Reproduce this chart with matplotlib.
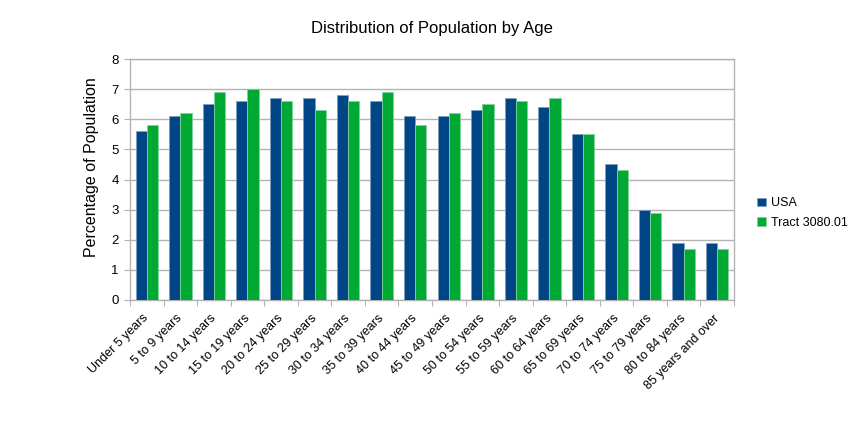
import matplotlib
matplotlib.use("Agg")
import matplotlib.pyplot as plt
import matplotlib.transforms as mtransforms
import numpy as np

categories = ["Under 5 years", "5 to 9 years", "10 to 14 years", "15 to 19 years",
              "20 to 24 years", "25 to 29 years", "30 to 34 years", "35 to 39 years",
              "40 to 44 years", "45 to 49 years", "50 to 54 years", "55 to 59 years",
              "60 to 64 years", "65 to 69 years", "70 to 74 years", "75 to 79 years",
              "80 to 84 years", "85 years and over"]
usa = [5.6, 6.1, 6.5, 6.6, 6.7, 6.7, 6.8, 6.6, 6.1, 6.1, 6.3, 6.7, 6.4, 5.5, 4.5, 3.0, 1.9, 1.9]
tract = [5.8, 6.2, 6.9, 7.0, 6.6, 6.3, 6.6, 6.9, 5.8, 6.2, 6.5, 6.6, 6.7, 5.5, 4.3, 2.9, 1.7, 1.7]
series_names = ["USA", "Tract 3080.01"]
colors = ["#004586", "#00a933"]
edge_colors = ["#7f9fc0", "#7fd499"]

plt.rcParams['font.family'] = ['Liberation Sans', 'DejaVu Sans']

fig = plt.figure(figsize=(8.61, 4.26), dpi=100)
ax = fig.add_axes([130/861, 1 - 300/426, (734-130)/861, (300-59)/426])

x = np.arange(len(categories))
w = 0.335
ax.bar(x - w/2, usa, w, color=colors[0], edgecolor=edge_colors[0], linewidth=0.6, label=series_names[0], zorder=3)
ax.bar(x + w/2, tract, w, color=colors[1], edgecolor=edge_colors[1], linewidth=0.6, label=series_names[1], zorder=3)

ax.set_xlim(-0.5, len(categories) - 0.5)
ax.set_ylim(0, 8)
ax.set_yticks(range(0, 9))
ax.yaxis.grid(True, color="#b3b3b3", linewidth=1, zorder=0)
ax.set_axisbelow(True)
for s in ax.spines.values():
    s.set_color("#b3b3b3")
    s.set_linewidth(1)

ax.set_xticks(np.arange(-0.5, len(categories), 1.0))
ax.set_xticklabels([])
ax.set_xticks(x, minor=True)
ax.set_xticklabels(categories, minor=True, rotation=45, ha='right', rotation_mode='anchor', fontsize=9)
ax.tick_params(axis='x', which='minor', length=0, pad=3)
ax.tick_params(axis='x', which='major', length=4, color="#b3b3b3", direction='out')
ax.tick_params(axis='y', length=4, color="#b3b3b3", direction='out', labelsize=9.5, pad=4)
offset = mtransforms.ScaledTranslation(-4/100, -8/100, fig.dpi_scale_trans)
for t in ax.get_xticklabels(minor=True):
    t.set_transform(t.get_transform() + offset)

ax.set_ylabel("Percentage of Population", fontsize=11.5)
ax.yaxis.set_label_coords(-0.051, 0.55)
fig.text(431.5/861, 1 - 28/426, "Distribution of Population by Age", ha='center', va='center', fontsize=12)

leg = ax.legend(loc='center left', bbox_to_anchor=(1.02, 0.36), frameon=False, fontsize=9,
                handlelength=0.7, handleheight=0.7, handletextpad=0.4, labelspacing=0.6)

fig.savefig("out.png", dpi=100)
